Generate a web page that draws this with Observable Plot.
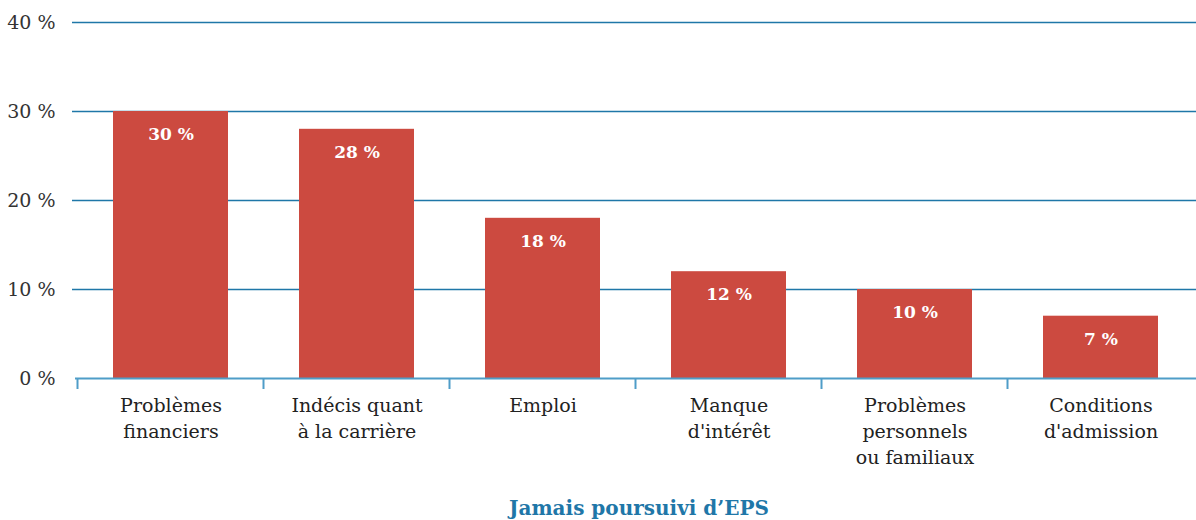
<!DOCTYPE html>
<html><head><meta charset="utf-8">
<script src="https://cdn.jsdelivr.net/npm/d3@7"></script>
<script src="https://cdn.jsdelivr.net/npm/@observablehq/plot@0.6"></script>
<style>
body{margin:0;background:#fff;font-family:"DejaVu Serif",serif;}
#title{width:1196px;box-sizing:border-box;padding-left:82px;text-align:center;font:bold 20px "DejaVu Serif",serif;color:#1f77a8;margin-top:11px;}
</style></head>
<body>
<div id="chart"></div>
<div id="title">Jamais poursuivi d’EPS</div>
<script>
const categories = ["Problèmes\nfinanciers","Indécis quant\nà la carrière","Emploi","Manque\nd'intérêt","Problèmes\npersonnels\nou familiaux","Conditions\nd'admission"];
const values = [30, 28, 18, 12, 10, 7];
const yTicks = [0, 10, 20, 30, 40];
const data = categories.map((c, i) => ({cat: c, v: values[i]}));

const plot = Plot.plot({
  width: 1196, height: 485,
  marginTop: 22, marginBottom: 107, marginLeft: 75, marginRight: 0,
  style: {fontFamily: "DejaVu Serif, serif", background: "#fff"},
  x: {domain: categories, paddingInner: 0.384, paddingOuter: 0.192, label: null},
  y: {domain: [0, 40], label: null},
  marks: [
    Plot.ruleY(yTicks.filter(d => d > 0), {stroke: "#1f77a8", strokeWidth: 1.5, insetLeft: -3}),
    Plot.barY(data, {x: "cat", y: "v", fill: "#cc4a40"}),
    Plot.ruleY([0], {stroke: "#4f9dc8", strokeWidth: 2}),
    Plot.text(data, {x: "cat", y: "v", text: d => d.v + " %", dy: 23, fill: "white", fontWeight: "bold", fontSize: 17}),
    Plot.axisY({ticks: yTicks, tickFormat: d => d + " %", tickSize: 0, tickPadding: 20, fontSize: 19, fill: "#333", label: null}),
    Plot.axisX({tickSize: 0, tickPadding: 15, fontSize: 19, lineHeight: 1.37, fill: "#222", label: null})
  ]
});
document.getElementById("chart").appendChild(plot);

// band boundary ticks drawn from the x scale
const xs = plot.scale("x");
const half = (xs.step - xs.bandwidth) / 2;
const bounds = categories.map(c => xs.apply(c) - half);
const svg = d3.select(plot);
svg.append("g").selectAll("line").data(bounds).join("line")
  .attr("x1", d => d).attr("x2", d => d)
  .attr("y1", 378).attr("y2", 389)
  .attr("stroke", "#4f9dc8").attr("stroke-width", 2);
</script>
</body></html>
